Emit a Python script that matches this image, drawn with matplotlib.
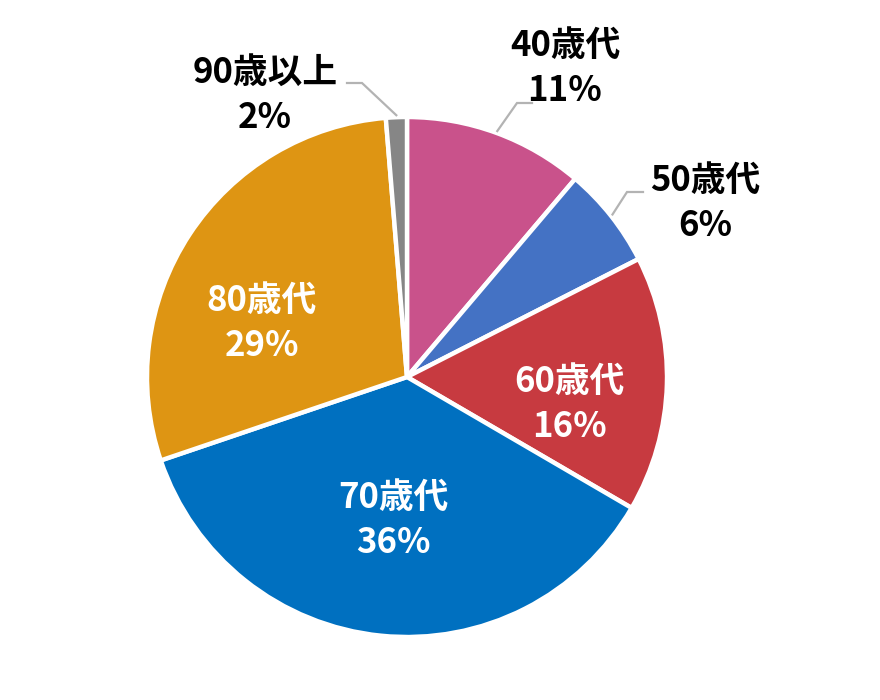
import matplotlib.pyplot as plt
import numpy as np

plt.rcParams['font.family'] = ['Noto Sans CJK JP', 'DejaVu Sans']

# data
labels = ['40歳代', '50歳代', '60歳代', '70歳代', '80歳代', '90歳以上']
shares = [11.2, 6.3, 15.9, 36.4, 28.9, 1.3]
pct_text = ['11%', '6%', '16%', '36%', '29%', '2%']
colors = ['#C9528B', '#4472C4', '#C73A40', '#0070C0', '#DE9513', '#868686']

# layout (pixel coords, y up)
W, H = 880, 700
cx, cy, R = 407, H - 377, 260
label_pos = [(565, H - 68), (705, H - 203), (569, H - 404),
             (393, H - 520), (262, H - 323), (265, H - 95)]
inside = [False, False, True, True, True, False]
# leader lines: elbow point, end of horizontal part
leaders = {0: [(532, H - 103), (517, H - 103)],
           1: [(643, H - 192), (627, H - 192)],
           5: [(347, H - 83), (362, H - 83)]}

fig = plt.figure(figsize=(8.8, 7.0), dpi=100)
ax = fig.add_axes([0, 0, 1, 1])

wedges, _ = ax.pie(shares, colors=colors, startangle=90, counterclock=False,
                   center=(cx, cy), radius=R, frame=True,
                   wedgeprops=dict(edgecolor='white', linewidth=3.2))
ax.set_xlim(0, W)
ax.set_ylim(0, H)
ax.set_aspect('equal')
ax.axis('off')

for i, w in enumerate(wedges):
    x, y = label_pos[i]
    ax.text(x, y, labels[i] + '\n' + pct_text[i], ha='center', va='center',
            fontsize=25, fontweight='bold', linespacing=1.35,
            color='white' if inside[i] else 'black')
    if i in leaders:
        mid = np.deg2rad((w.theta1 + w.theta2) / 2)
        px, py = cx + (R + 2) * np.cos(mid), cy + (R + 2) * np.sin(mid)
        (ax1, ay1), (ax2, ay2) = leaders[i]
        ax.plot([ax1, ax2, px], [ay1, ay2, py], color='#B3B3B3', lw=1.6,
                solid_joinstyle='miter')

fig.savefig('out.png', dpi=100)
